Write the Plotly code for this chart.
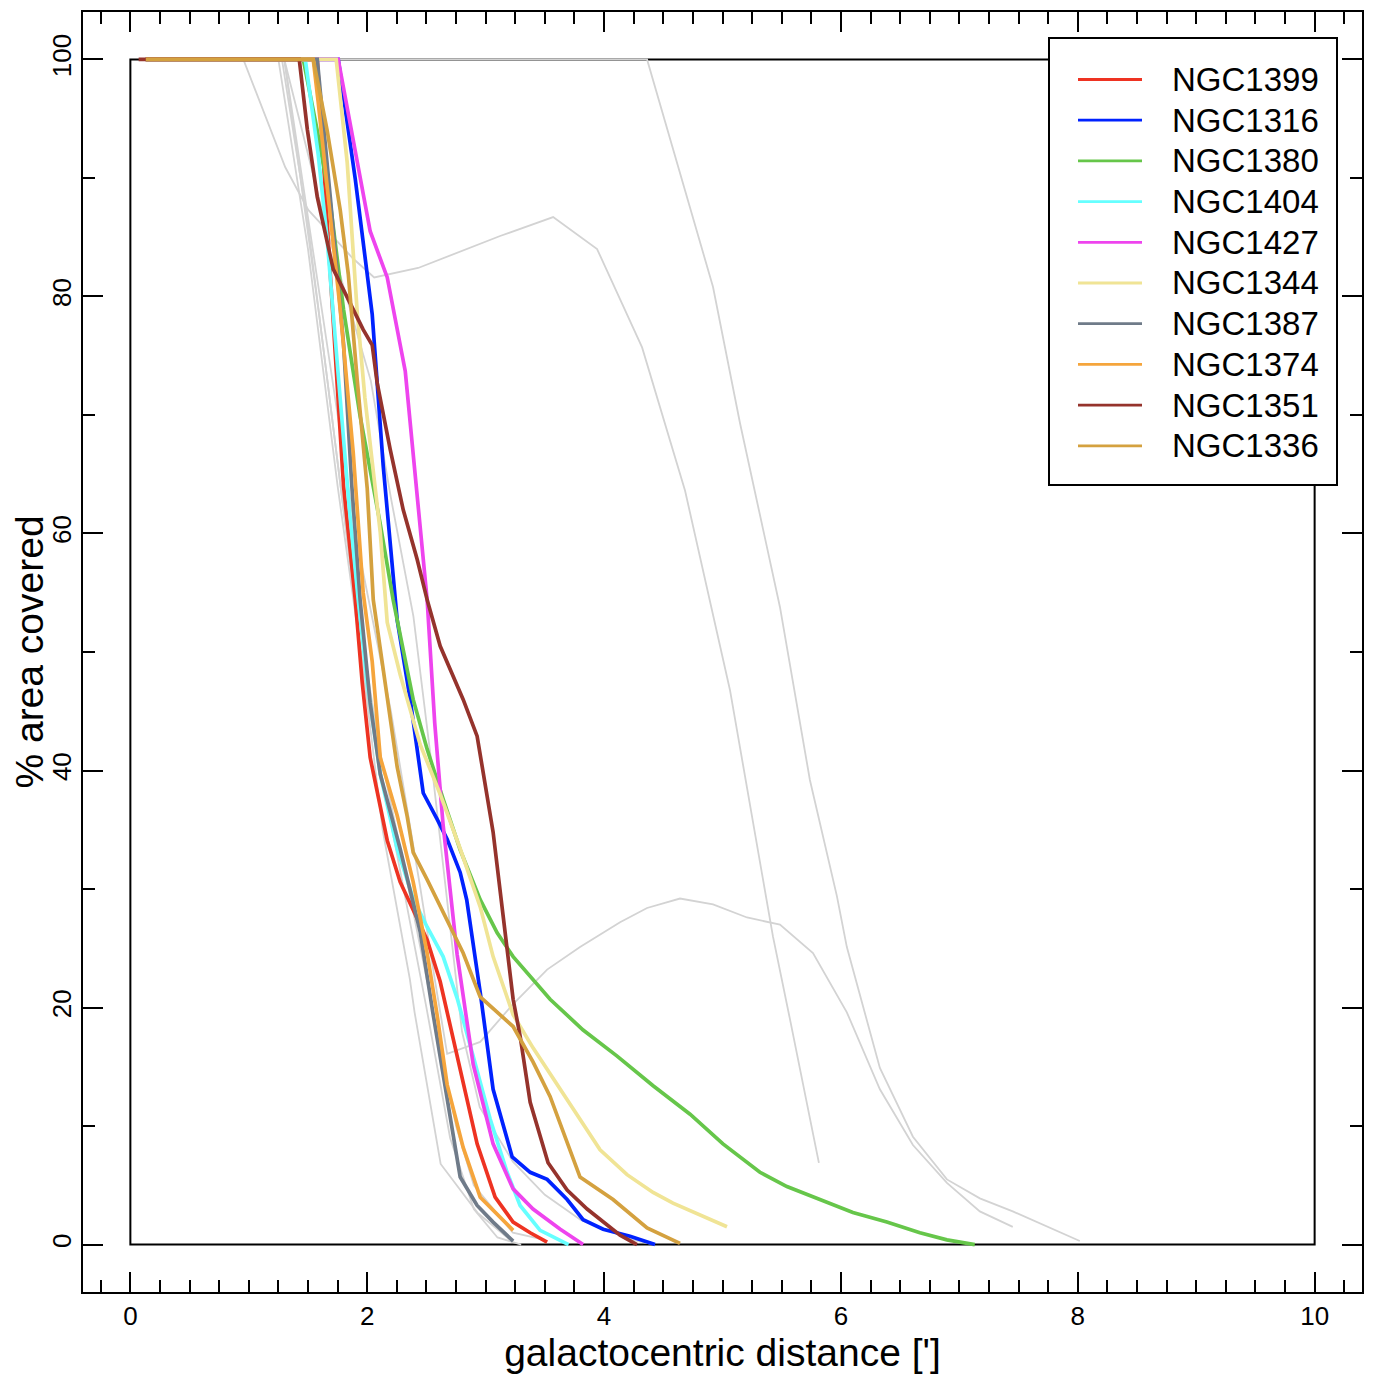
import plotly.graph_objects as go

# ---------------- data ----------------
names = ["NGC1399", "NGC1316", "NGC1380", "NGC1404", "NGC1427",
         "NGC1344", "NGC1387", "NGC1374", "NGC1351", "NGC1336"]
colors = ["#ee3322", "#0022ff", "#66c64a", "#66ffff", "#ee44ee",
          "#f0e495", "#6f7b89", "#f5a53c", "#95332c", "#d4a13f"]

ngc1399_x = [0.13, 1.578, 1.70, 1.80, 1.899, 1.958, 2.025, 2.169, 2.278, 2.388, 2.506, 2.616, 2.759, 2.928, 3.08, 3.232, 3.376, 3.519]
ngc1399_y = [100, 100, 80, 64, 54.4, 47.4, 41.1, 34.1, 30.6, 28.2, 25.7, 22.2, 15.9, 8.5, 4.0, 1.9, 1.0, 0.2]

ngc1316_x = [0.13, 1.755, 1.899, 2.042, 2.135, 2.253, 2.363, 2.473, 2.59, 2.675, 2.785, 2.84, 2.954, 3.063, 3.224, 3.376, 3.519, 3.688, 3.823, 3.992, 4.219, 4.43]
ngc1316_y = [100, 100, 89.9, 78.5, 65.7, 52.7, 46.0, 38.1, 35.9, 34.2, 31.4, 29.1, 21.3, 13.1, 7.4, 6.1, 5.5, 3.8, 2.1, 1.3, 0.7, 0]

ngc1380_x = [0.13, 1.46, 1.578, 1.688, 1.80, 1.94, 2.11, 2.219, 2.388, 2.506, 2.641, 2.785, 2.954, 3.097, 3.232, 3.401, 3.544, 3.823, 4.11, 4.414, 4.726, 5.004, 5.316, 5.544, 5.823, 6.101, 6.388, 6.667, 6.895, 7.13]
ngc1380_y = [100, 100, 94, 87.9, 78.9, 69.9, 60.8, 54.4, 46.0, 41.8, 37.6, 33.3, 29.1, 26.3, 24.3, 22.4, 20.7, 18.1, 15.9, 13.4, 11.0, 8.5, 6.1, 4.9, 3.8, 2.7, 1.9, 1.0, 0.4, 0]

ngc1404_x = [0.13, 1.477, 1.586, 1.66, 1.75, 1.85, 1.924, 2.0, 2.11, 2.253, 2.388, 2.506, 2.641, 2.759, 2.895, 3.038, 3.181, 3.291, 3.46, 3.63, 3.70]
ngc1404_y = [100, 100, 92, 85, 74, 62, 54.4, 47.4, 39.7, 33.4, 29.2, 26.8, 24.3, 20.8, 15.9, 10.6, 6.1, 3.3, 1.2, 0.3, 0]

ngc1427_x = [0.13, 1.755, 2.025, 2.169, 2.321, 2.506, 2.57, 2.64, 2.759, 2.895, 3.063, 3.232, 3.40, 3.63, 3.823]
ngc1427_y = [100, 100, 85.5, 81.6, 73.7, 54.4, 44, 35.5, 24.5, 15.2, 8.5, 4.7, 3.0, 1.3, 0]

ngc1344_x = [0.13, 1.738, 1.831, 1.916, 1.98, 2.05, 2.11, 2.169, 2.278, 2.447, 2.616, 2.785, 2.954, 3.063, 3.232, 3.40, 3.63, 3.966, 4.194, 4.414, 4.582, 5.038]
ngc1344_y = [100, 100, 91.3, 78.6, 71.5, 65.7, 60.1, 52.5, 48.1, 42.2, 38.0, 33.4, 28.5, 24.3, 19.4, 16.6, 13.1, 8.0, 5.9, 4.4, 3.5, 1.5]

ngc1387_x = [0.13, 1.578, 1.688, 1.80, 1.87, 1.94, 2.025, 2.11, 2.278, 2.447, 2.557, 2.675, 2.785, 2.928, 3.063, 3.232]
ngc1387_y = [100, 100, 88.4, 76, 64, 54.4, 45.7, 39.7, 33.4, 26.4, 19.4, 12.4, 5.7, 3.3, 1.9, 0.3]

ngc1374_x = [0.13, 1.544, 1.586, 1.688, 1.772, 1.882, 1.966, 2.042, 2.11, 2.253, 2.388, 2.506, 2.59, 2.675, 2.81, 2.954, 3.097, 3.232]
ngc1374_y = [100, 100, 96.4, 87, 78.9, 66.8, 55, 49.2, 41.1, 36.2, 30.6, 24.6, 19.4, 13.5, 8.2, 4.0, 2.6, 1.2]

ngc1351_x = [0.07, 1.426, 1.494, 1.578, 1.713, 1.831, 1.966, 2.042, 2.084, 2.194, 2.304, 2.422, 2.506, 2.616, 2.81, 2.928, 3.063, 3.148, 3.232, 3.291, 3.376, 3.527, 3.688, 3.857, 3.992, 4.135, 4.278]
ngc1351_y = [100, 100, 94.1, 88.4, 82.3, 80.0, 77.2, 75.9, 72.7, 67.1, 62.0, 57.8, 54.4, 50.5, 46.0, 42.9, 34.8, 27.7, 20.7, 17.6, 12.0, 6.9, 4.6, 3.0, 1.9, 0.8, 0]

ngc1336_x = [0.13, 1.544, 1.578, 1.662, 1.772, 1.84, 1.916, 2.0, 2.051, 2.11, 2.169, 2.253, 2.338, 2.388, 2.506, 2.641, 2.81, 2.954, 3.232, 3.401, 3.544, 3.797, 4.076, 4.363, 4.641]
ngc1336_y = [100, 100, 98.3, 94, 87.3, 81.9, 72.9, 63.8, 54.4, 50.2, 46.0, 40.3, 36.1, 33.1, 30.8, 28.0, 24.6, 20.9, 18.4, 15.4, 12.5, 5.7, 3.8, 1.4, 0.1]

series_x = [ngc1399_x, ngc1316_x, ngc1380_x, ngc1404_x, ngc1427_x,
            ngc1344_x, ngc1387_x, ngc1374_x, ngc1351_x, ngc1336_x]
series_y = [ngc1399_y, ngc1316_y, ngc1380_y, ngc1404_y, ngc1427_y,
            ngc1344_y, ngc1387_y, ngc1374_y, ngc1351_y, ngc1336_y]

# background (other galaxies) in light grey
grey_a_x = [0.13, 4.363, 4.92, 5.148, 5.485, 5.738, 5.966, 6.05, 6.329, 6.608, 6.895, 7.173, 7.451, 8.017]
grey_a_y = [100, 100, 80.8, 69.3, 53.8, 39.2, 29.4, 25.1, 14.9, 9.1, 5.5, 3.9, 2.8, 0.3]
grey_b_x = [0.13, 0.954, 1.308, 1.502, 1.88, 2.059, 2.43, 3.122, 3.57, 3.941, 4.321, 4.684, 5.063, 5.3, 5.426, 5.57, 5.814]
grey_b_y = [100, 100, 90.9, 87.3, 83.2, 81.6, 82.4, 85.1, 86.7, 84.0, 75.7, 63.6, 46.8, 33.3, 26.0, 19.0, 6.9]
grey_c_x = [0.13, 1.3, 1.6, 1.9, 2.2, 2.45, 2.57, 2.675, 2.954, 3.232, 3.519, 3.797, 4.135, 4.363, 4.641, 4.92, 5.207, 5.485, 5.764, 6.05, 6.329, 6.608, 6.895, 7.173, 7.451]
grey_c_y = [100, 100, 80, 60, 45, 30, 22.4, 16.1, 17.1, 20.3, 23.2, 25.1, 27.2, 28.4, 29.2, 28.7, 27.6, 27.0, 24.6, 19.6, 13.1, 8.4, 5.2, 2.8, 1.5]
grey_d_x = [0.13, 1.3, 1.65, 2.03, 2.2, 2.39, 2.55, 2.7, 2.8, 2.95, 3.23, 3.5, 3.8, 4.24, 4.43]
grey_d_y = [100, 100, 86, 72.9, 63, 53, 40, 27, 18, 11.6, 7.0, 4.2, 2.1, 0.4, 0]
grey_e_x = [0.13, 1.3, 1.6, 1.85, 2.1, 2.35, 2.55, 2.75, 2.9, 3.23, 3.5]
grey_e_y = [100, 100, 78, 58, 42, 30, 20, 10, 5, 1, 0.4]
grey_f_x = [0.13, 1.25, 1.5, 1.75, 2.0, 2.25, 2.5, 2.7, 2.9, 3.1, 3.3]
grey_f_y = [100, 100, 84, 64, 46, 33, 20, 9, 3, 0.6, 0]
grey_g_x = [0.13, 1.28, 1.5, 1.7, 1.9, 2.13, 2.36, 2.4, 2.62, 2.93, 3.23]
grey_g_y = [100, 100, 86, 70, 54, 35, 22.4, 19.6, 6.8, 2.7, 0.2]

grey_x = [grey_a_x, grey_b_x, grey_c_x, grey_d_x, grey_e_x, grey_f_x, grey_g_x]
grey_y = [grey_a_y, grey_b_y, grey_c_y, grey_d_y, grey_e_y, grey_f_y, grey_g_y]

x_ticks = [0, 2, 4, 6, 8, 10]
y_ticks = [0, 20, 40, 60, 80, 100]

# ---------------- figure ----------------
FONT = "Liberation Sans, Arial, Helvetica, sans-serif"
fig = go.Figure()

for gx, gy in zip(grey_x, grey_y):
    fig.add_trace(go.Scatter(x=gx, y=gy, mode="lines", showlegend=False,
                             hoverinfo="skip",
                             line=dict(color="#d3d3d3", width=1.8)))

for nm, col, sx, sy in zip(names, colors, series_x, series_y):
    fig.add_trace(go.Scatter(x=sx, y=sy, mode="lines", name=nm,
                             showlegend=False,
                             line=dict(color=col, width=3.7)))

# inner data frame 0..10 x 0..100
fig.add_shape(type="rect", xref="x", yref="y", x0=0, x1=10, y0=0, y1=100,
              line=dict(color="black", width=2), layer="below")

# page offset: the html body adds an 8 px margin around the figure
OFF = 8
ML, MT = 83 - OFF, 12 - OFF
PW, PH = 1279, 1280

def px_x(px):
    return (px - OFF - ML) / PW

def px_y(py):
    return 1 - (py - OFF - MT) / PH

# legend box (drawn manually to match the IDL-style legend)
fig.add_shape(type="rect", xref="paper", yref="paper",
              x0=px_x(1049), x1=px_x(1337), y0=px_y(485), y1=px_y(38),
              line=dict(color="black", width=2), fillcolor="white", layer="above")
step = 40.7
for i, (nm, col) in enumerate(zip(names, colors)):
    yy = px_y(79.5 + i * step)
    fig.add_shape(type="line", xref="paper", yref="paper",
                  x0=px_x(1078), x1=px_x(1142), y0=yy, y1=yy,
                  line=dict(color=col, width=2.8), layer="above")
    fig.add_annotation(xref="paper", yref="paper", x=px_x(1170), y=yy,
                       text=nm, showarrow=False, xanchor="left", yanchor="middle",
                       font=dict(family=FONT, size=33, color="black"))

axis_common = dict(showline=True, linecolor="black", linewidth=2,
                   mirror="allticks", ticks="inside", ticklen=20, tickwidth=2,
                   tickcolor="black", showgrid=False, zeroline=False,
                   tickfont=dict(family=FONT, size=26, color="black"))

fig.update_xaxes(range=[-0.4, 10.4], tickvals=x_ticks,
                 ticktext=[str(v) for v in x_ticks],
                 minor=dict(ticks="inside", dtick=0.25, ticklen=12, tickwidth=2,
                            tickcolor="black", showgrid=False),
                 title=dict(text="galactocentric distance [']",
                            font=dict(family=FONT, size=39, color="black"),
                            standoff=0),
                 **axis_common)
fig.update_yaxes(range=[-4, 104], tickvals=y_ticks,
                 ticktext=[str(v) for v in y_ticks], tickangle=-90,
                 minor=dict(ticks="inside", dtick=10, ticklen=12, tickwidth=2,
                            tickcolor="black", showgrid=False),
                 title=dict(text="% area covered",
                            font=dict(family=FONT, size=39, color="black"),
                            standoff=10),
                 **axis_common)

fig.update_layout(width=1382, height=1382,
                  margin=dict(l=ML, r=1382 - ML - PW, t=MT, b=1382 - MT - PH,
                              autoexpand=False),
                  paper_bgcolor="white", plot_bgcolor="white",
                  showlegend=False,
                  font=dict(family=FONT, color="black"))

fig.write_html("out.html")
